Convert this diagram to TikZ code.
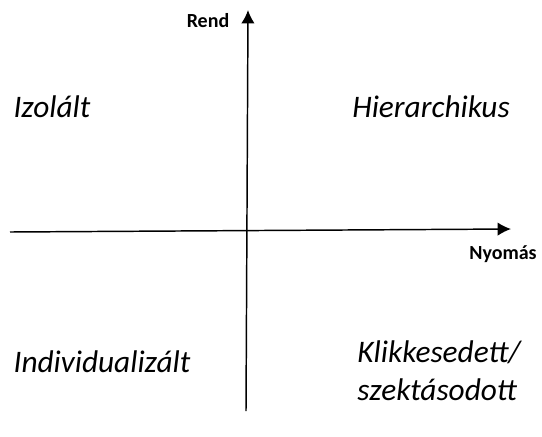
\documentclass[tikz,border=0pt]{standalone}
\usepackage{fontspec}
\setmainfont{Carlito}
\usetikzlibrary{arrows.meta}

\tikzset{
    tengely/.style={line width=1.1pt, -{Latex[length=10pt,width=10pt]}},
    negyed/.style={font=\itshape\fontsize{23.5}{28.5}\selectfont},
    tengelynev/.style={font=\bfseries\fontsize{15}{18}\selectfont}
}

\begin{document}
\begin{tikzpicture}[x=0.75pt,y=-0.75pt]
    \useasboundingbox (0,0) rectangle (542,436);
    % Tengelyek
    \coordinate (balveg) at (10,232);
    \coordinate (jobbveg) at (511,229);
    \coordinate (alsoveg) at (246,411);
    \coordinate (felsoveg) at (248,10);
    \draw[tengely] (balveg) -- (jobbveg);
    \draw[tengely] (alsoveg) -- (felsoveg);
    % Tengelyfeliratok
    \node[tengelynev] (rend) at (208,21) {Rend};
    \node[tengelynev] (nyomas) at (503,254) {Nyomás};
    % Negyedek
    \node[negyed] (izolalt) at (52,107) {Izolált};
    \node[negyed] (hierarchikus) at (431,107) {Hierarchikus};
    \node[negyed] (individualizalt) at (102,362) {Individualizált};
    \node[negyed, align=left] (klikkesedett) at (439,371) {Klikkesedett/\\szektásodott};
\end{tikzpicture}
\end{document}
